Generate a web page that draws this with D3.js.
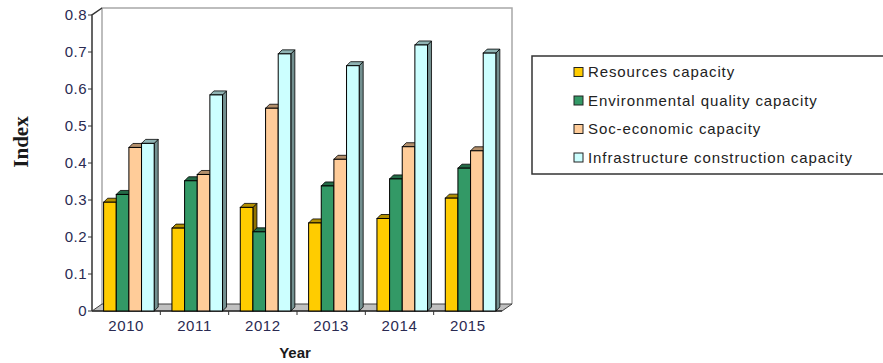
<!DOCTYPE html>
<html>
<head>
<meta charset="utf-8">
<script src="https://cdn.jsdelivr.net/npm/d3@7"></script>
<style>
  body { margin: 0; background: #ffffff; }
  svg { display: block; }
</style>
</head>
<body>
<div id="chart"></div>
<script>
var years = ["2010", "2011", "2012", "2013", "2014", "2015"];
var seriesNames = [
  "Resources capacity",
  "Environmental quality capacity",
  "Soc-economic capacity",
  "Infrastructure construction capacity"
];
var resources = [0.294, 0.224, 0.280, 0.238, 0.250, 0.305];
var environmental = [0.315, 0.352, 0.214, 0.338, 0.357, 0.386];
var socEconomic = [0.442, 0.369, 0.548, 0.410, 0.444, 0.433];
var infrastructure = [0.453, 0.584, 0.695, 0.663, 0.719, 0.697];
var yTicks = [0, 0.1, 0.2, 0.3, 0.4, 0.5, 0.6, 0.7, 0.8];
var colors = ["#ffcc00", "#339966", "#ffcc99", "#ccffff"];

var seriesValues = [resources, environmental, socEconomic, infrastructure];

var width = 883;
var height = 363;
var pLeft = 92, pRight = 502, pTop = 15, pBottom = 311;
var DX = 10, DY = 7;   // depth of the 3d box
var dx = 4, dy = 4;    // depth of a bar

var svg = d3.select("#chart").append("svg")
  .attr("width", width)
  .attr("height", height);

var x0 = d3.scaleBand()
  .domain(years)
  .range([pLeft, pRight]);
var bw = x0.bandwidth();
var x1 = d3.scaleBand()
  .domain(d3.range(seriesNames.length))
  .range([bw * 0.17, bw * 0.17 + bw * 0.74]);
var y = d3.scaleLinear()
  .domain([0, 0.8])
  .range([pBottom, pTop]);

// back wall
svg.append("path")
  .attr("d", "M" + (pLeft + DX) + "," + (pBottom - DY) + "V" + (pTop - DY) + "H" + (pRight + DX) + "V" + (pBottom - DY))
  .style("fill", "#ffffff")
  .style("stroke", "#a8a8a8")
  .style("stroke-width", 1.5);

// floor
svg.append("path")
  .attr("d", "M" + pLeft + "," + pBottom + "L" + (pLeft + DX) + "," + (pBottom - DY) + "H" + (pRight + DX) + "L" + pRight + "," + pBottom + "Z")
  .style("fill", "#c0c0c0")
  .style("stroke", "#404040")
  .style("stroke-width", 1);

// left edge
svg.append("path")
  .attr("d", "M" + pLeft + "," + pBottom + "V" + pTop + "L" + (pLeft + DX) + "," + (pTop - DY))
  .style("fill", "none")
  .style("stroke", "#333333")
  .style("stroke-width", 1.5);
svg.append("line")
  .attr("x1", pLeft).attr("x2", pRight)
  .attr("y1", pBottom).attr("y2", pBottom)
  .style("stroke", "#333333")
  .style("stroke-width", 1.5);

// y ticks
var yAxis = svg.append("g");
yAxis.selectAll("line")
  .data(yTicks)
  .enter()
  .append("line")
  .attr("x1", pLeft - 4).attr("x2", pLeft)
  .attr("y1", d => y(d)).attr("y2", d => y(d))
  .style("stroke", "#333333");
yAxis.selectAll("text")
  .data(yTicks)
  .enter()
  .append("text")
  .attr("x", pLeft - 5)
  .attr("y", d => y(d))
  .attr("dy", "0.36em")
  .attr("text-anchor", "end")
  .style("font", "15px Arial, 'Liberation Sans', sans-serif")
  .style("letter-spacing", "0.5px")
  .style("fill", "#2a2a52")
  .text(d => d === 0 ? "0" : d3.format(".1f")(d));

// x ticks
var xAxis = svg.append("g");
xAxis.selectAll("line")
  .data(years.slice(1))
  .enter()
  .append("line")
  .attr("x1", d => x0(d)).attr("x2", d => x0(d))
  .attr("y1", pBottom).attr("y2", pBottom + 4)
  .style("stroke", "#333333");
xAxis.selectAll("text")
  .data(years)
  .enter()
  .append("text")
  .attr("x", d => x0(d) + bw / 2)
  .attr("y", 331)
  .attr("text-anchor", "middle")
  .style("font", "15px Arial, 'Liberation Sans', sans-serif")
  .style("letter-spacing", "0.6px")
  .style("fill", "#2a2a52")
  .text(d => d);

// bars
var bars = [];
years.forEach((yr, i) => {
  seriesValues.forEach((vals, s) => {
    bars.push({ year: yr, s: s, value: vals[i] });
  });
});

var barGroup = svg.append("g");
var barW = x1.bandwidth();
bars.forEach(b => {
  var bx = x0(b.year) + x1(b.s);
  var by = y(b.value);
  var c = d3.color(colors[b.s]);
  var g = barGroup.append("g");
  // side
  g.append("path")
    .attr("d", "M" + (bx + barW) + "," + pBottom + "V" + by + "l" + dx + "," + (-dy) + "V" + (pBottom - dy) + "Z")
    .style("fill", c.darker(1.6))
    .style("stroke", "#000000")
    .style("stroke-width", 0.8);
  // top
  g.append("path")
    .attr("d", "M" + bx + "," + by + "l" + dx + "," + (-dy) + "h" + barW + "l" + (-dx) + "," + dy + "Z")
    .style("fill", c.darker(1))
    .style("stroke", "#000000")
    .style("stroke-width", 0.8);
  // front
  g.append("rect")
    .attr("x", bx)
    .attr("y", by)
    .attr("width", barW)
    .attr("height", pBottom - by)
    .style("fill", colors[b.s])
    .style("stroke", "#000000")
    .style("stroke-width", 1);
});

// axis titles
svg.append("text")
  .attr("transform", "translate(28,142) rotate(-90)")
  .attr("text-anchor", "middle")
  .style("font", "bold 21px 'Liberation Serif', 'Times New Roman', serif")
  .style("fill", "#1a1a1a")
  .text("Index");
svg.append("text")
  .attr("x", 295)
  .attr("y", 358)
  .attr("text-anchor", "middle")
  .style("font", "bold 15px Arial, 'Liberation Sans', sans-serif")
  .style("fill", "#1a1a1a")
  .text("Year");

// legend
var legend = svg.append("g");
legend.append("rect")
  .attr("x", 532)
  .attr("y", 56)
  .attr("width", 360)
  .attr("height", 118)
  .style("fill", "#ffffff")
  .style("stroke", "#333333")
  .style("stroke-width", 1.5);
var items = legend.selectAll("g.item")
  .data(seriesNames)
  .enter()
  .append("g")
  .attr("class", "item")
  .attr("transform", (d, i) => "translate(0," + (72 + i * 28.5) + ")");
items.append("rect")
  .attr("x", 574)
  .attr("y", -4.5)
  .attr("width", 9)
  .attr("height", 9)
  .style("fill", (d, i) => colors[i])
  .style("stroke", "#222222")
  .style("stroke-width", 1);
items.append("text")
  .attr("x", 588)
  .attr("dy", "0.36em")
  .style("font", "15px Arial, 'Liberation Sans', sans-serif")
  .style("letter-spacing", "0.9px")
  .style("fill", "#222222")
  .text(d => d);
</script>
</body>
</html>
